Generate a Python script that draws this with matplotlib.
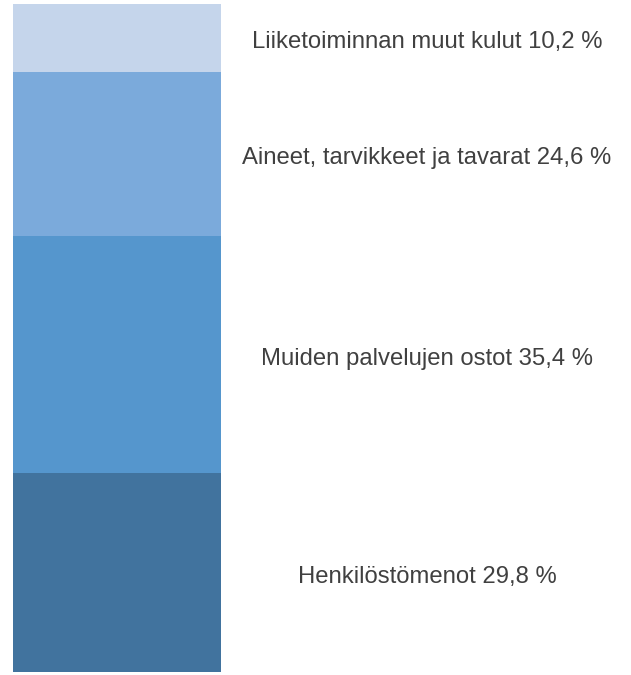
import matplotlib.pyplot as plt

plt.rcParams["font.family"] = ["Liberation Sans", "DejaVu Sans"]

# ── Data ──────────────────────────────────────────────────────────────────
categories = [
    "Henkilöstömenot",
    "Muiden palvelujen ostot",
    "Aineet, tarvikkeet ja tavarat",
    "Liiketoiminnan muut kulut",
]
shares = [29.8, 35.4, 24.6, 10.2]
colors = ["#41739E", "#5596CD", "#7BAADB", "#C5D5EB"]

W, H = 631, 675
fig = plt.figure(figsize=(W / 100, H / 100), dpi=100)
fig.patch.set_facecolor("white")
ax = fig.add_axes([13 / W, 3 / H, 208 / W, 668 / H])

bottom = 0.0
for cat, val, col in zip(categories, shares, colors):
    ax.bar(0, val, width=1.0, bottom=bottom, color=col, edgecolor="none")
    label = f"{cat} {val:.1f} %".replace(".", ",")
    ax.annotate(label, xy=((427 - 13) / 208 - 0.5, bottom + val / 2),
                xytext=(0, -3), textcoords="offset points",
                ha="center", va="center", fontsize=17.2, color="#404040",
                annotation_clip=False)
    bottom += val

ax.set_xlim(-0.5, 0.5)
ax.set_ylim(0, sum(shares))
ax.axis("off")

fig.savefig("out.png", dpi=100)
